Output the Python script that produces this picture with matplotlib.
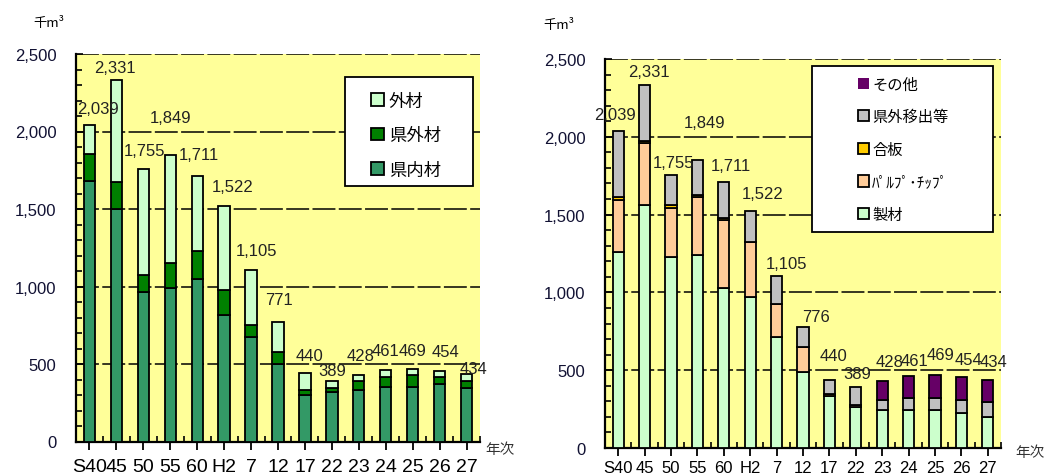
import matplotlib
matplotlib.use("Agg")
import matplotlib.pyplot as plt
from matplotlib.patches import Rectangle
import numpy as np

plt.rcParams['font.family'] = ['Noto Sans CJK JP', 'DejaVu Sans']

years = ["S40", "45", "50", "55", "60", "H2", "7", "12", "17", "22", "23", "24", "25", "26", "27"]

# left chart: supply by origin (千m3)
kennai = [1680, 1500, 966, 990, 1050, 818, 672, 502, 300, 321, 332, 354, 354, 371, 345]
kengai = [173, 172, 108, 162, 180, 160, 82, 73, 32, 24, 60, 64, 77, 47, 47]
gaizai = [186, 659, 681, 697, 481, 544, 351, 196, 108, 44, 36, 43, 38, 36, 42]

# right chart: demand by use (千m3)
seizai = [1261, 1563, 1225, 1238, 1031, 969, 714, 488, 334, 264, 243, 243, 243, 228, 202]
pulp = [335, 397, 317, 374, 437, 356, 211, 159, 0, 15, 0, 0, 0, 0, 0]
gouhan = [15, 15, 20, 12, 10, 0, 0, 0, 10, 0, 0, 0, 0, 0, 0]
iside = [428, 356, 193, 225, 233, 197, 180, 129, 96, 110, 66, 79, 79, 81, 96]
sonota = [0, 0, 0, 0, 0, 0, 0, 0, 0, 0, 119, 139, 147, 145, 136]

# label offsets in points (dx, dy) - just to follow the original placement
left_off = [(6, 12), (-1, 9), (1, 14), (0, 27), (1, 16), (6, 14), (4, 14), (1, 16),
            (3, 13), (0, 8), (1, 14), (0, 14), (0, 13), (4, 14), (5, 4)]
right_off = [(-2, 12), (3, 10), (2, 9), (5, 27), (5, 12), (9, 13), (7, 9), (9, 8),
             (3, 17), (1, 10), (5, 14), (4, 11), (4, 15), (5, 13), (4, 14)]

BG = '#FFFF99'
NUMFONT = ['Liberation Sans', 'DejaVu Sans']


def style_axes(ax, xfont, xpad):
    ax.set_facecolor(BG)
    ax.set_xlim(-0.5, len(years) - 0.5)
    ax.set_ylim(0, 2500)
    ax.set_yticks(np.arange(0, 2501, 500))
    ax.set_yticklabels(["{:,}".format(v) for v in range(0, 2501, 500)], fontsize=12,
                       color='#111133', family=NUMFONT)
    ax.set_yticks(np.arange(0, 2501, 100), minor=True)
    ax.set_xticks(np.arange(len(years)))
    ax.set_xticklabels(years, fontsize=xfont, family=NUMFONT)
    ax.set_xticks(np.arange(-0.5, len(years)), minor=True)
    ax.tick_params(axis='y', which='major', direction='in', length=5, width=1.2, pad=14)
    ax.tick_params(axis='y', which='minor', direction='in', length=4, width=1.2)
    ax.tick_params(axis='x', which='major', direction='out', length=6, width=1.3, pad=xpad)
    ax.tick_params(axis='x', which='minor', direction='in', length=4, width=1.2)
    for s in ['top', 'right']:
        ax.spines[s].set_visible(False)
    for s in ['left', 'bottom']:
        ax.spines[s].set_linewidth(1.6)
    ax.set_axisbelow(True)
    ax.yaxis.grid(True, which='major', color='black', linewidth=1.1, linestyle=(0, (15, 2.2)))


def stack(ax, series, colors, names):
    x = np.arange(len(years))
    bottom = np.zeros(len(years))
    for vals, c, n in zip(series, colors, names):
        vals = np.array(vals, dtype=float)
        ec = ['black' if v > 0 else 'none' for v in vals]
        ax.bar(x, vals, 0.42, bottom=bottom, color=c, edgecolor=ec, linewidth=1.3, label=n, zorder=3)
        bottom += vals
    return bottom


def value_labels(ax, totals, offs):
    for i, t in enumerate(totals):
        ax.annotate("{:,}".format(int(t)), (i, t), xytext=offs[i], textcoords='offset points',
                    ha='center', va='center', fontsize=12, color='#222222',
                    family=NUMFONT, zorder=6)


fig = plt.figure(figsize=(10.59, 4.77), dpi=100)

# left chart
ax1 = fig.add_axes([76 / 1059, 1 - 442.5 / 477, 404 / 1059, 387.5 / 477])
style_axes(ax1, 14, 6)
tot1 = stack(ax1, [kennai, kengai, gaizai], ['#339966', '#008000', '#CCFFCC'], ["県内材", "県外材", "外材"])
value_labels(ax1, tot1, left_off)
ax1.add_patch(Rectangle((345 / 1059, 1 - 187 / 477), 128 / 1059, 109 / 477, transform=fig.transFigure,
                        facecolor='white', edgecolor='black', linewidth=1.3, zorder=4, clip_on=False))
h, l = ax1.get_legend_handles_labels()
leg1 = ax1.legend(h[::-1], l[::-1], loc='upper left', bbox_to_anchor=(362 / 1059, 1 - 84 / 477),
                  bbox_transform=fig.transFigure, frameon=False, fontsize=12.5,
                  handlelength=0.75, handleheight=0.75, handletextpad=0.3, labelspacing=0.95,
                  borderpad=0)
leg1.set_zorder(5)
fig.text(33 / 1059, 1 - 23 / 477, "千m³", fontsize=9.5, va='center', ha='left')
fig.text(485 / 1059, 1 - 450 / 477, "年次", fontsize=10.5, va='center', ha='left', color='#333333')

# right chart
ax2 = fig.add_axes([605 / 1059, 1 - 449 / 477, 396 / 1059, 389 / 477])
style_axes(ax2, 12, 3)
tot2 = stack(ax2, [seizai, pulp, gouhan, iside, sonota],
             ['#CCFFCC', '#FFCC99', '#FFCC00', '#C0C0C0', '#660066'],
             ["製材", "ﾊﾟﾙﾌﾟ･ﾁｯﾌﾟ", "合板", "県外移出等", "その他"])
value_labels(ax2, tot2, right_off)
ax2.add_patch(Rectangle((812 / 1059, 1 - 233 / 477), 181 / 1059, 166 / 477, transform=fig.transFigure,
                        facecolor='white', edgecolor='black', linewidth=1.3, zorder=4, clip_on=False))
h, l = ax2.get_legend_handles_labels()
leg2 = ax2.legend(h[::-1], l[::-1], loc='upper left', bbox_to_anchor=(850 / 1059, 1 - 69 / 477),
                  bbox_transform=fig.transFigure, frameon=False, fontsize=11,
                  handlelength=0.75, handleheight=0.75, handletextpad=0.2, labelspacing=1.02,
                  borderpad=0)
leg2.set_zorder(5)
fig.text(543 / 1059, 1 - 25 / 477, "千m³", fontsize=9.5, va='center', ha='left')
fig.text(1015 / 1059, 1 - 453 / 477, "年次", fontsize=10.5, va='center', ha='left', color='#333333')

fig.savefig("out.png", dpi=100)
